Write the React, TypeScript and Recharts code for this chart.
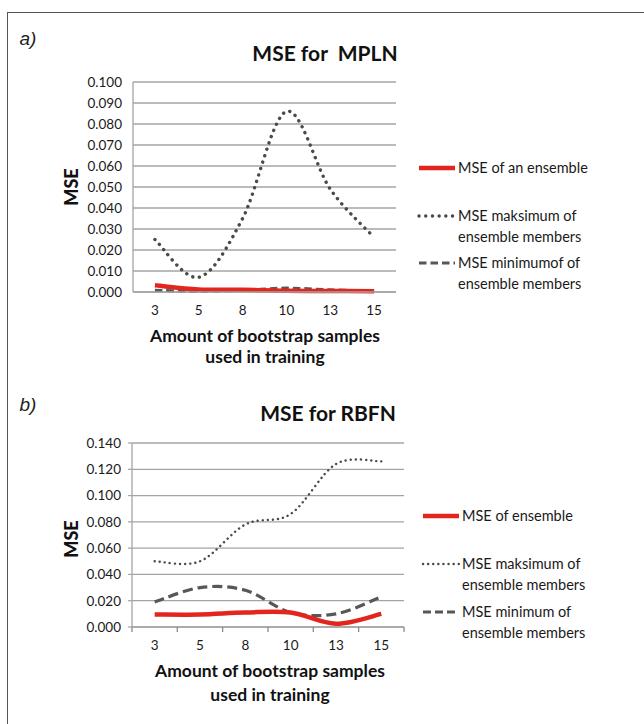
import React from 'react';
import { LineChart, Line, XAxis, YAxis, CartesianGrid } from 'recharts';

const categories = ['3', '5', '8', '10', '13', '15'];

const mplnEnsemble = [0.0032, 0.0012, 0.0011, 0.0006, 0.0005, 0.0003];
const mplnMax = [0.025, 0.007, 0.035, 0.086, 0.049, 0.026];
const mplnMin = [0.0008, 0.0003, 0.0008, 0.0018, 0.001, 0.0003];
const mplnTicks = [0, 0.01, 0.02, 0.03, 0.04, 0.05, 0.06, 0.07, 0.08, 0.09, 0.1];

const rbfnEnsemble = [0.0095, 0.0095, 0.011, 0.011, 0.0025, 0.010];
const rbfnMax = [0.050, 0.050, 0.078, 0.086, 0.124, 0.126];
const rbfnMin = [0.019, 0.030, 0.028, 0.011, 0.010, 0.023];
const rbfnTicks = [0, 0.02, 0.04, 0.06, 0.08, 0.1, 0.12, 0.14];

const mplnLegend = ['MSE of an ensemble', 'MSE maksimum of\nensemble members', 'MSE minimumof of\nensemble members'];
const rbfnLegend = ['MSE of ensemble', 'MSE maksimum of\nensemble members', 'MSE minimum of\nensemble members'];

const mplnData = categories.map((c, i) => ({ cat: c, ens: mplnEnsemble[i], max: mplnMax[i], min: mplnMin[i] }));
const rbfnData = categories.map((c, i) => ({ cat: c, ens: rbfnEnsemble[i], max: rbfnMax[i], min: rbfnMin[i] }));

// Excel-like smoothing (Catmull-Rom / cardinal with tension 0)
const excelSmooth: any = (context: any) => {
  let pts: number[][] = [];
  return {
    areaStart() {},
    areaEnd() {},
    lineStart() { pts = []; },
    point(x: number, y: number) { pts.push([+x, +y]); },
    lineEnd() {
      if (!pts.length) return;
      context.moveTo(pts[0][0], pts[0][1]);
      for (let i = 0; i < pts.length - 1; i++) {
        const p0 = pts[i - 1] || pts[i];
        const p1 = pts[i];
        const p2 = pts[i + 1];
        const p3 = pts[i + 2] || p2;
        const c1x = p1[0] + (p2[0] - p0[0]) / 6;
        const c1y = p1[1] + (p2[1] - p0[1]) / 6;
        const c2x = p2[0] - (p3[0] - p1[0]) / 6;
        const c2y = p2[1] - (p3[1] - p1[1]) / 6;
        context.bezierCurveTo(c1x, c1y, c2x, c2y, p2[0], p2[1]);
      }
    },
  };
};

const FONT = 'Lato, "Noto Sans", sans-serif';
const GRID = '#a4a4a4';
const RED = '#e3261d';
const GRAY = '#4a4a4a';

const makeXTick = (withMarks: boolean, half: number) => (props: any) => {
  const { x, y, payload, index, visibleTicksCount } = props;
  return (
    <g>
      {withMarks && <line x1={x - half} x2={x - half} y1={y} y2={y + 5} stroke="#8a8a8a" strokeWidth={1.3} />}
      {withMarks && index === visibleTicksCount - 1 && (
        <line x1={x + half} x2={x + half} y1={y} y2={y + 5} stroke="#8a8a8a" strokeWidth={1.3} />
      )}
      <text x={x} y={y + 18} textAnchor="middle" dominantBaseline="central" fontFamily={FONT} fontSize={13.5} fill="#1a1a1a">
        {payload.value}
      </text>
    </g>
  );
};

type Sample = 'solid' | 'dotBig' | 'dotSmall' | 'dashTop' | 'dashBottom';

const sampleStyle: Record<Sample, any> = {
  solid: { stroke: RED, strokeWidth: 4.5 },
  dotBig: { stroke: GRAY, strokeWidth: 3.4, strokeDasharray: '0.1 6.6', strokeLinecap: 'round' },
  dotSmall: { stroke: GRAY, strokeWidth: 2.4, strokeDasharray: '0.1 5', strokeLinecap: 'round' },
  dashTop: { stroke: '#575757', strokeWidth: 3.2, strokeDasharray: '7.5 4' },
  dashBottom: { stroke: '#575757', strokeWidth: 3.2, strokeDasharray: '8 4' },
};

function LegendEntry({ left, top, text, sample }: { left: number; top: number; text: string; sample: Sample }) {
  const lines = text.split('\n');
  return (
    <div style={{ position: 'absolute', left, top: top - 10, display: 'flex', alignItems: 'flex-start' }}>
      <svg width={40} height={20} style={{ display: 'block', flex: 'none' }}>
        <line x1={2} x2={38} y1={10} y2={10} {...sampleStyle[sample]} />
      </svg>
      <div style={{ fontFamily: FONT, fontSize: 14.5, lineHeight: '20.5px', color: '#1a1a1a', whiteSpace: 'nowrap', marginLeft: 1 }}>
        {lines.map((l, i) => (
          <div key={i}>{l}</div>
        ))}
      </div>
    </div>
  );
}

function Txt({ x, y, children, style }: { x: number; y: number; children: any; style?: any }) {
  return (
    <div
      style={{
        position: 'absolute',
        left: x,
        top: y,
        transform: 'translate(-50%, -50%)',
        whiteSpace: 'nowrap',
        fontFamily: FONT,
        color: '#111',
        ...style,
      }}
    >
      {children}
    </div>
  );
}

export default function App() {
  return (
    <div style={{ position: 'absolute', left: 0, top: 0, width: 644, height: 724, background: '#fff', overflow: 'hidden' }}>
      <div
        style={{
          position: 'absolute',
          left: 7,
          top: 12,
          width: 660,
          height: 740,
          borderLeft: '1.6px solid #555',
          borderTop: '1.6px solid #555',
        }}
      />

      {/* Chart a */}
      <div style={{ position: 'absolute', left: 0, top: 0 }}>
        <LineChart width={644} height={362} data={mplnData} margin={{ top: 82, right: 248, bottom: 40, left: 87 }}>
          <CartesianGrid vertical={false} stroke={GRID} strokeWidth={1.3} />
          <XAxis
            dataKey="cat"
            scale="band"
            height={30}
            axisLine={{ stroke: GRID, strokeWidth: 1.3 }}
            tickLine={false}
            tickSize={0}
            tickMargin={0}
            tick={makeXTick(false, 21.9)}
            interval={0}
          />
          <YAxis
            width={46}
            domain={[0, 0.1]}
            ticks={mplnTicks}
            tickFormatter={(v: number) => v.toFixed(3)}
            axisLine={{ stroke: GRID, strokeWidth: 1.3 }}
            tickLine={false}
            tickSize={4}
            tickMargin={7}
            tick={{ fontFamily: FONT, fontSize: 13.5, fill: '#1a1a1a' }}
            interval={0}
          />
          <Line dataKey="max" type={excelSmooth} stroke={GRAY} strokeWidth={3.4} strokeDasharray="0.1 6.6" strokeLinecap="round" dot={false} isAnimationActive={false} />
          <Line dataKey="min" type={excelSmooth} stroke="#575757" strokeWidth={3.2} strokeDasharray="7.5 4" dot={false} isAnimationActive={false} />
          <Line dataKey="ens" type={excelSmooth} stroke={RED} strokeWidth={4.5} dot={false} isAnimationActive={false} />
        </LineChart>
      </div>
      <Txt x={28} y={39} style={{ fontFamily: '"Liberation Sans", Arial, sans-serif', fontStyle: 'italic', fontSize: 19, color: '#222' }}>a)</Txt>
      <Txt x={325} y={52} style={{ fontWeight: 700, fontSize: 21 }}>MSE for&nbsp; MPLN</Txt>
      <Txt x={71} y={187} style={{ fontWeight: 900, fontSize: 18, transform: 'translate(-50%, -50%) rotate(-90deg)' }}>MSE</Txt>
      <Txt x={265} y={335} style={{ fontWeight: 700, fontSize: 17.5 }}>Amount of bootstrap samples</Txt>
      <Txt x={265} y={356} style={{ fontWeight: 700, fontSize: 17.5 }}>used in training</Txt>
      <LegendEntry left={417} top={168} text={mplnLegend[0]} sample="solid" />
      <LegendEntry left={417} top={216} text={mplnLegend[1]} sample="dotBig" />
      <LegendEntry left={417} top={263} text={mplnLegend[2]} sample="dashTop" />

      {/* Chart b */}
      <div style={{ position: 'absolute', left: 0, top: 362 }}>
        <LineChart width={644} height={362} data={rbfnData} margin={{ top: 81, right: 240, bottom: 67, left: 86 }}>
          <CartesianGrid vertical={false} stroke={GRID} strokeWidth={1.3} />
          <XAxis
            dataKey="cat"
            scale="band"
            height={30}
            axisLine={{ stroke: GRID, strokeWidth: 1.3 }}
            tickLine={false}
            tickSize={0}
            tickMargin={0}
            tick={makeXTick(true, 22.7)}
            interval={0}
          />
          <YAxis
            width={46}
            domain={[0, 0.14]}
            ticks={rbfnTicks}
            tickFormatter={(v: number) => v.toFixed(3)}
            axisLine={{ stroke: GRID, strokeWidth: 1.3 }}
            tickLine={{ stroke: GRID, strokeWidth: 1.2 }}
            tickSize={4}
            tickMargin={7}
            tick={{ fontFamily: FONT, fontSize: 13.5, fill: '#1a1a1a' }}
            interval={0}
          />
          <Line dataKey="max" type={excelSmooth} stroke={GRAY} strokeWidth={2.4} strokeDasharray="0.1 5" strokeLinecap="round" dot={false} isAnimationActive={false} />
          <Line dataKey="min" type={excelSmooth} stroke="#575757" strokeWidth={3.2} strokeDasharray="10 5" dot={false} isAnimationActive={false} />
          <Line dataKey="ens" type={excelSmooth} stroke={RED} strokeWidth={4.5} dot={false} isAnimationActive={false} />
        </LineChart>
      </div>
      <Txt x={28} y={405} style={{ fontFamily: '"Liberation Sans", Arial, sans-serif', fontStyle: 'italic', fontSize: 19, color: '#222' }}>b)</Txt>
      <Txt x={328} y={412} style={{ fontWeight: 700, fontSize: 21 }}>MSE for RBFN</Txt>
      <Txt x={71} y={539} style={{ fontWeight: 900, fontSize: 18, transform: 'translate(-50%, -50%) rotate(-90deg)' }}>MSE</Txt>
      <Txt x={270} y={670} style={{ fontWeight: 700, fontSize: 17.5 }}>Amount of bootstrap samples</Txt>
      <Txt x={270} y={694} style={{ fontWeight: 700, fontSize: 17.5 }}>used in training</Txt>
      <LegendEntry left={421} top={516} text={rbfnLegend[0]} sample="solid" />
      <LegendEntry left={421} top={564} text={rbfnLegend[1]} sample="dotSmall" />
      <LegendEntry left={421} top={612} text={rbfnLegend[2]} sample="dashBottom" />
    </div>
  );
}
